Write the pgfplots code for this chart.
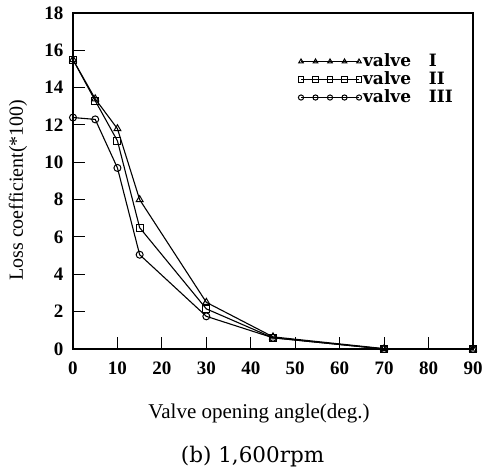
\documentclass[border=0pt]{standalone}
\usepackage{fontspec}
\setmainfont{Liberation Serif}
\newfontfamily\dvs{DejaVu Serif}
\usepackage{pgfplots}
\pgfplotsset{compat=1.18}
\begin{document}
\begin{tikzpicture}
\useasboundingbox (-73pt,-127pt) rectangle (420pt,349pt);
\begin{axis}[
  at={(0,0)}, anchor=south west,
  scale only axis, width=400pt, height=336pt,
  xmin=0, xmax=90, ymin=0, ymax=18,
  xtick={0,10,...,90}, ytick={0,2,...,18},
  tick align=inside, xtick pos=bottom, ytick pos=left,
  major tick length=12pt,
  tick style={line width=1pt, black},
  axis line style={line width=1.3pt},
  /pgf/number format/assume math mode=true,
  ticklabel style={font=\fontsize{19}{19}\selectfont\bfseries},
  xticklabel style={yshift=-9pt},
  yticklabel style={xshift=-6pt},
  clip=false,
  xlabel={Valve opening angle(deg.)},
  ylabel={Loss coefficient(*100)},
  xlabel style={at={(axis description cs:0.465,0)}, yshift=-64pt, anchor=center, font=\fontsize{21}{21}\selectfont},
  ylabel style={at={(axis description cs:-0.1375,0.473)}, anchor=center, font=\fontsize{20}{20}\selectfont},
  legend image code/.code={
    \draw[#1, mark size=2.6pt, line width=0.8pt] plot coordinates {(0pt,0pt) (14.5pt,0pt) (29pt,0pt) (43.5pt,0pt) (58pt,0pt)};
  },
  legend style={at={(axis cs:50.0,16.0)}, anchor=north west, draw=none, fill=none,
    font=\dvs\bfseries\fontsize{17}{17}\selectfont,
    nodes={inner sep=1.5pt, text height=12pt, text depth=3pt},
    row sep=0pt},
  legend cell align=left,
]
\addplot[black, line width=1.1pt, mark=triangle, mark size=4pt, mark options={solid, line width=1pt}] coordinates {(0,15.5) (5,13.4) (10,11.8) (15,8.0) (30,2.5) (45,0.65) (70,0.02) (90,0.0)};
\addlegendentry{valve\ \ \ I}
\addplot[black, line width=1.1pt, mark=square, mark size=3.5pt, mark options={solid, line width=1pt}] coordinates {(0,15.5) (5,13.3) (10,11.15) (15,6.5) (30,2.15) (45,0.6) (70,0.0) (90,0.0)};
\addlegendentry{valve\ \ \ II}
\addplot[black, line width=1.1pt, mark=o, mark size=3.5pt, mark options={solid, line width=1pt}] coordinates {(0,12.4) (5,12.3) (10,9.7) (15,5.05) (30,1.75) (45,0.6) (70,0.0) (90,0.0)};
\addlegendentry{valve\ \ \ III}
\node[font=\dvs\fontsize{21.5}{21.5}\selectfont] at (axis description cs:0.449,0) [yshift=-108pt] {(b)\ 1,600rpm};
\end{axis}
\end{tikzpicture}
\end{document}
